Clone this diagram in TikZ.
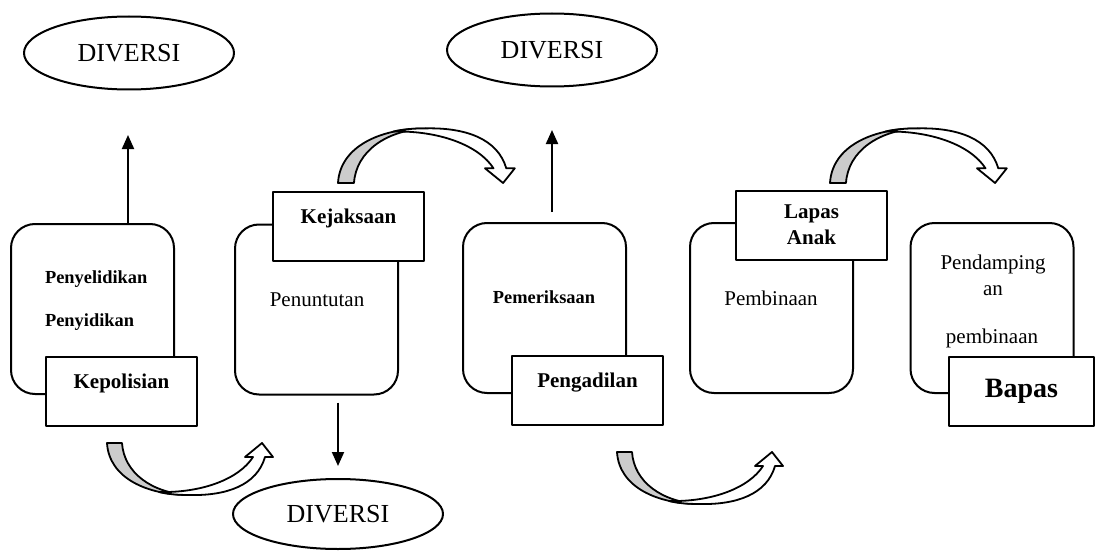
\documentclass[tikz,border=0pt]{standalone}
\usepackage{fontspec}
\setmainfont{Liberation Serif}
\usetikzlibrary{shapes.geometric,arrows.meta}
\definecolor{bandgray}{RGB}{204,204,204}
\tikzset{
  stage/.style={draw, line width=1pt, rounded corners=12pt, minimum width=81.5pt, minimum height=85pt},
  office/.style={draw, fill=white, line width=1pt, minimum width=75.5pt, minimum height=34.5pt, font=\bfseries\fontsize{10.5}{13}\selectfont},
  oneline/.style={text height=7pt, text depth=10pt},
  diversi/.style={draw, ellipse, line width=1pt, minimum width=105pt, minimum height=36.5pt, font=\fontsize{13}{15}\selectfont},
  flow/.style={line width=1pt, -{Triangle[length=7pt,width=6pt]}},
  pics/turn/.style={code={
    \filldraw[fill=bandgray, line width=0.9pt] (0,0) -- (15,0) .. controls (17,30) and (45,50) .. (82,52) .. controls (40,52) and (2,35) .. (0,0) -- cycle;
    \filldraw[fill=white, line width=0.9pt] (52,49) .. controls (95,50) and (132,36) .. (146,14) -- (138,14) -- (155,0) -- (166,14) -- (158,14) .. controls (150,42) and (120,53) .. (82,52) .. controls (70,52) and (60,51) .. (52,49) -- cycle;
  }}
}
\begin{document}
\begin{tikzpicture}[x=0.5pt, y=-0.5pt, line join=round]
  \useasboundingbox (0,0) rectangle (1097,551);
  % diversi exits
  \node[diversi] (div1) at (129,53) {DIVERSI};
  \node[diversi] (div2) at (552,50) {DIVERSI};
  \node[diversi, minimum height=35pt] (div3) at (338,514) {DIVERSI};
  % stages
  \node[stage] (polisi) at (92.5,309) {};
  \node[stage] (jaksa) at (316.5,309.5) {};
  \node[stage] (sidang) at (544.5,308) {};
  \node[stage] (lapas) at (771.5,308) {};
  \node[stage] (bapas) at (992,308) {};
  \node[anchor=base west, font=\bfseries\fontsize{9.2}{11}\selectfont] (lidik) at (38,283) {Penyelidikan};
  \node[anchor=base west, font=\bfseries\fontsize{9.2}{11}\selectfont] (sidik) at (38,326) {Penyidikan};
  \node[anchor=base, font=\fontsize{10.5}{13}\selectfont] (tuntut) at (317,306) {Penuntutan};
  \node[anchor=base, font=\bfseries\fontsize{9.2}{11}\selectfont] (periksa) at (544,303) {Pemeriksaan};
  \node[anchor=base, font=\fontsize{10.5}{13}\selectfont] (bina) at (771,305) {Pembinaan};
  \node[anchor=base, font=\fontsize{10.5}{13}\selectfont] (damping) at (993,269) {Pendamping};
  \node[anchor=base, font=\fontsize{10.5}{13}\selectfont] (dampingan) at (993,295) {an};
  \node[anchor=base, font=\fontsize{10.5}{13}\selectfont] (binaan) at (992,343) {pembinaan};
  % institutions
  \node[office, oneline] (kepolisian) at (121.5,391.5) {Kepolisian};
  \node[office, oneline] (kejaksaan) at (348.5,226) {Kejaksaan};
  \node[office, oneline] (pengadilan) at (587.5,390) {Pengadilan};
  \node[office, align=center] (lapasanak) at (811.5,225) {Lapas\\Anak};
  \node[office, minimum width=72.5pt, font=\bfseries\fontsize{14}{16}\selectfont] (bapasbox) at (1021.5,391.5) {Bapas};
  % straight arrows
  \coordinate (tip1) at (128,135);
  \coordinate (tip2) at (552,130);
  \coordinate (tip3) at (338,466);
  \draw[flow] (polisi.north -| tip1) -- (tip1);
  \draw[flow] (sidang.north -| tip2) ++(0,-10) -- (tip2);
  \draw[flow] (jaksa.south -| tip3) ++(0,7) -- (tip3);
  % curved arrows
  \pic at (107,443) {turn};
  \pic[xscale=1.065, yscale=-1.05] at (338,183) {turn};
  \pic at (617,452) {turn};
  \pic[xscale=1.065, yscale=-1.05] at (830,183) {turn};
\end{tikzpicture}
\end{document}
